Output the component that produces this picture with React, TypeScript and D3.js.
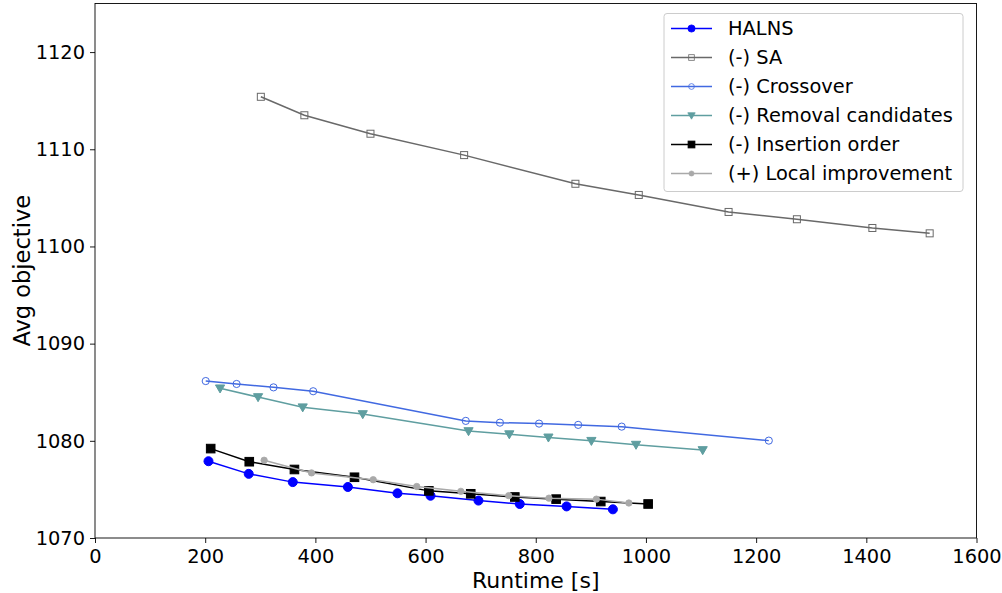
import React, { useRef, useEffect } from 'react';
import * as d3 from 'd3';

// runtime [s] / avg objective
const halnsX = [206, 279, 359, 459, 549, 609, 696, 771, 856, 940];
const halnsY = [1077.9, 1076.6, 1075.75, 1075.25, 1074.6, 1074.35, 1073.85, 1073.5, 1073.25, 1072.95];

const saX = [301, 380, 500, 670, 872, 987, 1150, 1274, 1411, 1515];
const saY = [1115.4, 1113.5, 1111.6, 1109.4, 1106.45, 1105.3, 1103.55, 1102.8, 1101.9, 1101.35];

const crossX = [201, 257, 324, 396, 673, 735, 806, 877, 956, 1223];
const crossY = [1086.15, 1085.85, 1085.5, 1085.1, 1082.05, 1081.87, 1081.77, 1081.64, 1081.46, 1080.02];

const removalX = [227, 296, 377, 486, 678, 752, 823, 901, 982, 1103];
const removalY = [1085.4, 1084.5, 1083.45, 1082.75, 1081.0, 1080.68, 1080.35, 1080.0, 1079.6, 1079.05];

const insertX = [210, 280, 362, 471, 606, 682, 762, 837, 918, 1004];
const insertY = [1079.2, 1077.85, 1077.05, 1076.25, 1074.85, 1074.55, 1074.22, 1074.0, 1073.75, 1073.5];

const localX = [307, 393, 505, 584, 664, 751, 824, 910, 969];
const localY = [1078.0, 1076.7, 1076.0, 1075.3, 1074.8, 1074.36, 1074.1, 1074.0, 1073.6];

const xTicks = [0, 200, 400, 600, 800, 1000, 1200, 1400, 1600];
const yTicks = [1070, 1080, 1090, 1100, 1110, 1120];

const seriesNames = ['HALNS', '(-) SA', '(-) Crossover', '(-) Removal candidates', '(-) Insertion order', '(+) Local improvement'];

const FONT = 'DejaVu Sans, sans-serif';

type Pt = { x: number; y: number };
const zip = (xs: number[], ys: number[]): Pt[] => xs.map((x, i) => ({ x, y: ys[i] }));

const series = [
  { name: seriesNames[0], data: zip(halnsX, halnsY), color: '#0000ff', marker: 'circle', fill: true },
  { name: seriesNames[1], data: zip(saX, saY), color: '#696969', marker: 'square', fill: false },
  { name: seriesNames[2], data: zip(crossX, crossY), color: '#4169e1', marker: 'circle', fill: false },
  { name: seriesNames[3], data: zip(removalX, removalY), color: '#5f9ea0', marker: 'tri', fill: true },
  { name: seriesNames[4], data: zip(insertX, insertY), color: '#000000', marker: 'bigsquare', fill: true },
  { name: seriesNames[5], data: zip(localX, localY), color: '#a9a9a9', marker: 'dot', fill: true },
];

// draws one marker at (0,0) inside g
function drawMarker(g: any, kind: string, color: string, fill: boolean) {
  const f = fill ? color : 'none';
  if (kind === 'circle') {
    g.append('circle').attr('r', fill ? 4.5 : 3.6).attr('fill', f).attr('stroke', color).attr('stroke-width', 1);
  } else if (kind === 'square') {
    g.append('rect').attr('x', -3.5).attr('y', -3.5).attr('width', 7).attr('height', 7)
      .attr('fill', f).attr('stroke', color).attr('stroke-width', 1);
  } else if (kind === 'bigsquare') {
    g.append('rect').attr('x', -4.3).attr('y', -4.3).attr('width', 8.6).attr('height', 8.6)
      .attr('fill', f).attr('stroke', color).attr('stroke-width', 1);
  } else if (kind === 'tri') {
    g.append('path').attr('d', 'M-4.6,-3.4L4.6,-3.4L0,4.6Z').attr('fill', f).attr('stroke', color).attr('stroke-width', 1);
  } else {
    g.append('circle').attr('r', 3.2).attr('fill', f).attr('stroke', color).attr('stroke-width', 0.8);
  }
}

const Chart = () => {
  const svgRef = useRef<SVGSVGElement>(null);

  useEffect(() => {
    const svg = d3.select(svgRef.current);
    svg.selectAll('*').remove();

    const left = 95, right = 976.5, top = 3.5, bottom = 538;

    // scales
    const x = d3.scaleLinear().domain([0, 1600]).range([left, right]);
    const y = d3.scaleLinear().domain([1070, 1125]).range([bottom, top]);

    // axes
    const xAxis = d3.axisBottom(x).tickValues(xTicks).tickSize(5).tickPadding(5).tickFormat(d3.format('d'));
    const gx = svg.append('g').attr('transform', `translate(0,${bottom})`).call(xAxis);
    const yAxis = d3.axisLeft(y).tickValues(yTicks).tickSize(5).tickPadding(5).tickFormat(d3.format('d'));
    const gy = svg.append('g').attr('transform', `translate(${left},0)`).call(yAxis);
    [gx, gy].forEach((g) => {
      g.select('.domain').remove();
      g.selectAll('text').attr('font-family', FONT).attr('font-size', 19.4).attr('fill', 'black');
      g.selectAll('line').attr('stroke', 'black').attr('stroke-width', 0.9);
    });
    gx.selectAll('text').attr('dy', '0.76em');

    // frame
    svg.append('rect').attr('x', left).attr('y', top).attr('width', right - left).attr('height', bottom - top)
      .attr('fill', 'none').attr('stroke', 'black').attr('stroke-width', 0.9);

    // labels
    svg.append('text').attr('x', (left + right) / 2).attr('y', 588).attr('text-anchor', 'middle')
      .attr('font-family', FONT).attr('font-size', 22).text('Runtime [s]');
    svg.append('text').attr('transform', `translate(30,${(top + bottom) / 2}) rotate(-90)`)
      .attr('text-anchor', 'middle').attr('font-family', FONT).attr('font-size', 22.5).text('Avg objective');

    const myLine = d3.line<Pt>().x((d) => x(d.x)).y((d) => y(d.y));

    series.forEach((s) => {
      svg.append('path').datum(s.data).attr('d', myLine).attr('fill', 'none')
        .attr('stroke', s.color).attr('stroke-width', 1.5);
      svg.append('g').selectAll('g').data(s.data).join('g')
        .attr('transform', (d) => `translate(${x(d.x)},${y(d.y)})`)
        .each(function () {
          drawMarker(d3.select(this), s.marker, s.color, s.fill);
        });
    });

    // legend
    const lg = svg.append('g');
    lg.append('rect').attr('x', 664).attr('y', 13.5).attr('width', 299).attr('height', 178).attr('rx', 3)
      .attr('fill', 'white').attr('fill-opacity', 0.8).attr('stroke', '#cccccc').attr('stroke-width', 1);
    series.forEach((s, i) => {
      const cy = 28.5 + i * 29;
      lg.append('line').attr('x1', 671).attr('x2', 712).attr('y1', cy).attr('y2', cy)
        .attr('stroke', s.color).attr('stroke-width', 1.5);
      const mg = lg.append('g').attr('transform', `translate(691.5,${cy}) scale(0.8)`);
      drawMarker(mg, s.marker, s.color, s.fill);
      lg.append('text').attr('x', 728).attr('y', cy).attr('dy', '0.36em')
        .attr('font-family', FONT).attr('font-size', 19.4).text(s.name);
    });
  }, []);

  return (
    <svg ref={svgRef} width={1002} height={593}
      style={{ position: 'absolute', left: 0, top: 0, background: 'white' }} />
  );
};

export default function App() {
  return <Chart />;
}
